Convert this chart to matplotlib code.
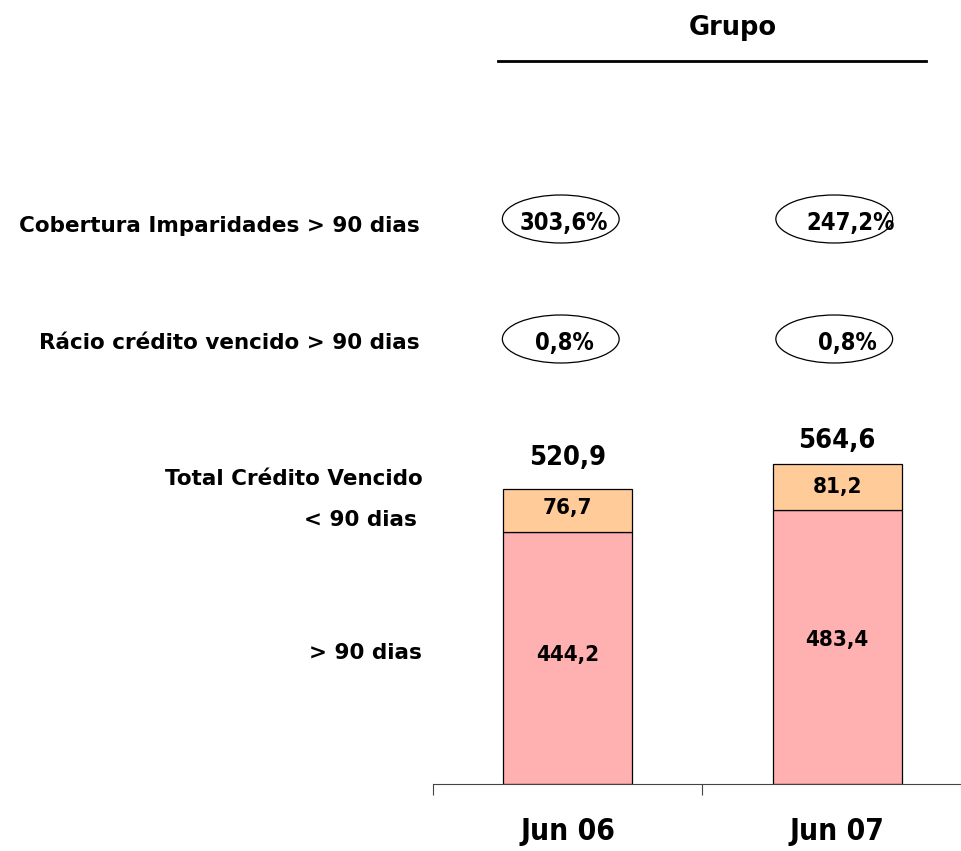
import matplotlib.pyplot as plt
from matplotlib.patches import Ellipse

# data
periods = ['Jun 06', 'Jun 07']
over_90 = [444.2, 483.4]
under_90 = [76.7, 81.2]
totals = [520.9, 564.6]
coverage = ['303,6%', '247,2%']
ratio = ['0,8%', '0,8%']

W, H = 962, 851
fig = plt.figure(figsize=(W / 100, H / 100), dpi=100)


def fx(x):
    return x / W


def fy(y):
    return 1 - y / H


font = dict(family='DejaVu Sans', stretch='condensed', weight='bold')
font_wide = dict(family='DejaVu Sans', weight='bold')

ax = fig.add_axes([fx(433), fy(784), (W - 433) / W, 784 / H])
px_per_unit = 0.5663

x = range(len(periods))
ax.bar(x, over_90, width=0.48, color='#FFB0B0', edgecolor='black', linewidth=0.9)
ax.bar(x, under_90, width=0.48, bottom=over_90, color='#FFCC99',
       edgecolor='black', linewidth=0.9)

for spine in ['top', 'right', 'left']:
    ax.spines[spine].set_visible(False)
ax.spines['bottom'].set_color('#444444')
ax.set_yticks([])
ax.set_xticks([-0.5, 0.5, 1.5])
ax.set_xticklabels([])
ax.tick_params(axis='x', direction='out', length=8, color='#444444')
ax.set_ylim(0, 784 / px_per_unit)
ax.set_xlim(-0.5, 1.5 - 10 / 270)


def to_data(py):
    return (784 - py) / px_per_unit


# value labels
tot_y = [458, 441]
low_y = [655, 640]
up_y = [508, 487]
for i in x:
    ax.text(i, to_data(tot_y[i]), f'{totals[i]:.1f}'.replace('.', ','),
            ha='center', va='center', fontsize=19.5, clip_on=False, **font)
    ax.text(i, to_data(up_y[i]), f'{under_90[i]:.1f}'.replace('.', ','),
            ha='center', va='center', fontsize=16, **font)
    ax.text(i, to_data(low_y[i]), f'{over_90[i]:.1f}'.replace('.', ','),
            ha='center', va='center', fontsize=16, **font)
    ax.text(i, to_data(832), periods[i], ha='center', va='center',
            fontsize=21.5, clip_on=False, **font)

# ellipses with ratios
ell_cx = [-7 / 270, 1 - 3 / 270]
for i in x:
    for row_y, txt, dx in [(219, coverage[i], [-4, 9][i]), (339, ratio[i], [-3, 6][i])]:
        e = Ellipse((ell_cx[i], to_data(row_y)), 117 / 270, 48 / px_per_unit,
                    facecolor='none', edgecolor='black', linewidth=0.9,
                    clip_on=False)
        ax.add_patch(e)
        ax.text(ell_cx[i] + (dx + 7) / 270, to_data(row_y + 4), txt,
                ha='center', va='center', fontsize=17, clip_on=False, **font)

# left labels
labels = [('Cobertura Imparidades > 90 dias', 420, 226),
          ('Rácio crédito vencido > 90 dias', 420, 343),
          ('Total Crédito Vencido', 423, 479),
          ('< 90 dias', 417, 520),
          ('> 90 dias', 422, 653)]
for txt, lx, ly in labels:
    fig.text(fx(lx), fy(ly), txt, ha='right', va='center', fontsize=15.5,
             **font_wide)

# header
fig.text(fx(733), fy(28), 'Grupo', ha='center', va='center', fontsize=18.5,
         **font_wide)
fig.add_artist(plt.Line2D([fx(498), fx(926)], [fy(61), fy(61)], color='black',
                          linewidth=2))

fig.savefig('out.png', dpi=100)
